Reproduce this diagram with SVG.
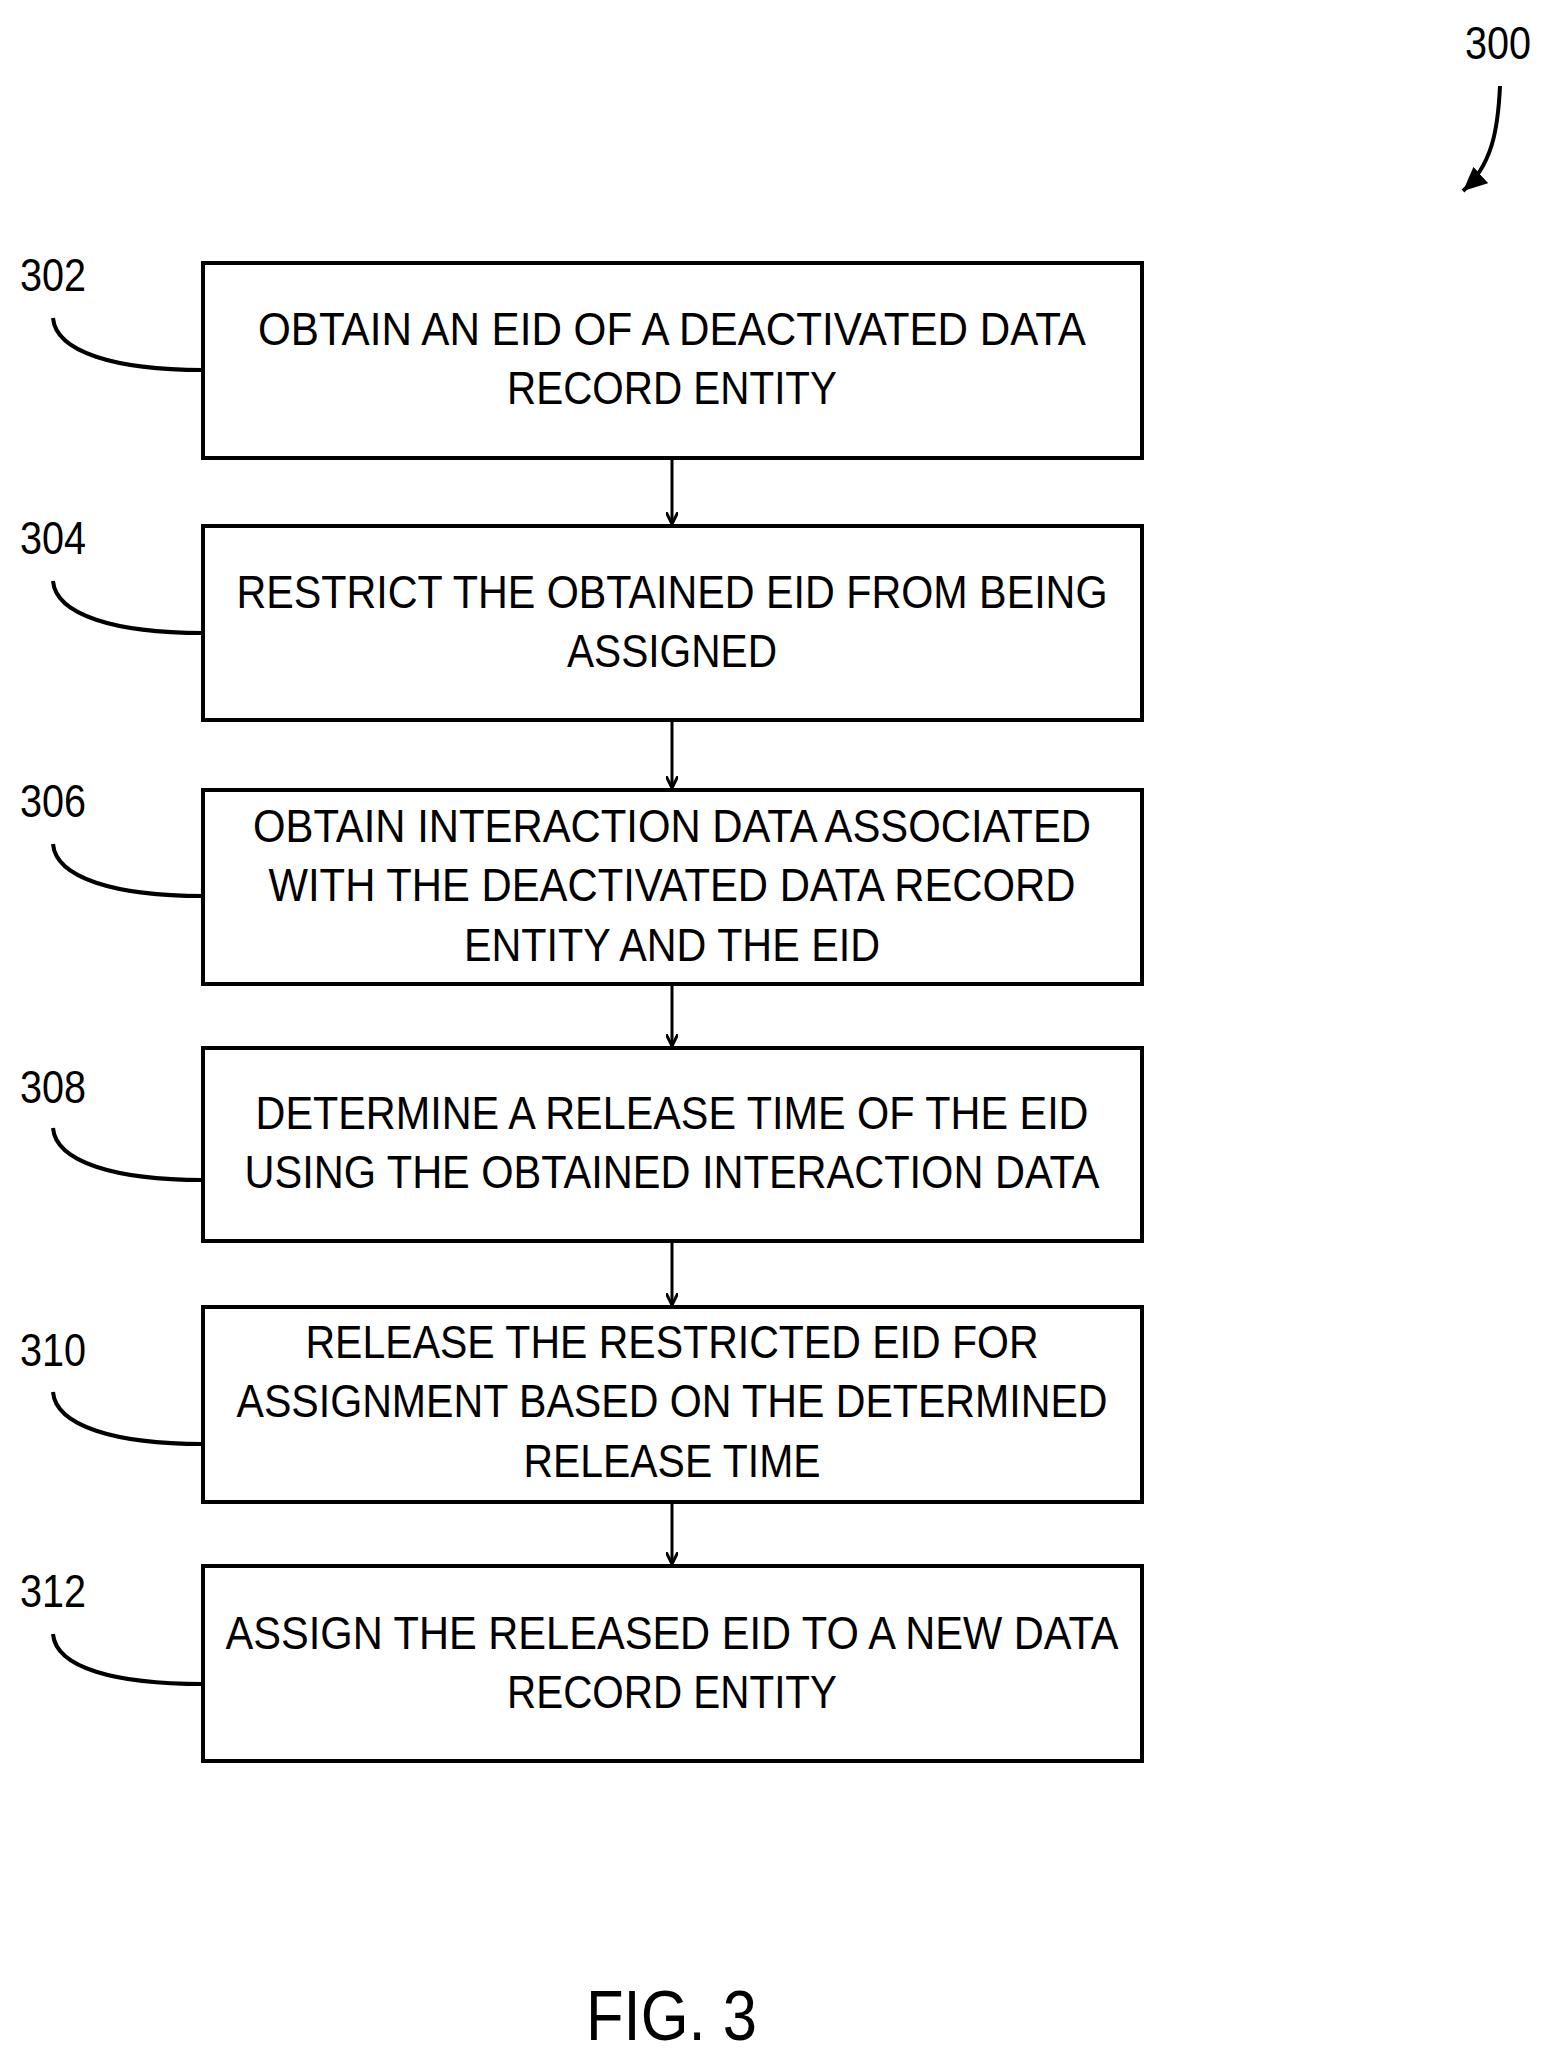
<svg xmlns="http://www.w3.org/2000/svg" width="1547" height="2059" viewBox="0 0 1547 2059">
<defs>
<style>
.box{fill:#fff;stroke:#000;stroke-width:4}
.t{font-family:"Liberation Sans",Arial,sans-serif;font-size:47px;text-anchor:middle;fill:#000}
.lb{font-family:"Liberation Sans",Arial,sans-serif;font-size:46px;fill:#000}
.lead{fill:none;stroke:#000;stroke-width:4}
.conn{stroke:#000;stroke-width:3;fill:none}
</style>
<marker id="ah" markerWidth="14" markerHeight="12" refX="12" refY="6" orient="auto" markerUnits="userSpaceOnUse">
<path d="M0,0 L12,6 L0,12" fill="none" stroke="#000" stroke-width="3"/>
</marker>
<marker id="ahf" markerWidth="26" markerHeight="22" refX="24" refY="11" orient="auto" markerUnits="userSpaceOnUse">
<path d="M0,0 L24,11 L0,22 Z" fill="#000"/>
</marker>
</defs>
<rect width="1547" height="2059" fill="#fff"/>
<g id="ref300">
<text class="lb" x="1465" y="59" textLength="66" lengthAdjust="spacingAndGlyphs">300</text>
<path d="M1500,86 C1498,130 1492,165 1463,191" class="lead" stroke-width="3" marker-end="url(#ahf)"/>
</g>
<g id="connectors">
<line class="conn" x1="672" y1="460" x2="672" y2="524" marker-end="url(#ah)"/>
<line class="conn" x1="672" y1="722" x2="672" y2="788" marker-end="url(#ah)"/>
<line class="conn" x1="672" y1="986" x2="672" y2="1046" marker-end="url(#ah)"/>
<line class="conn" x1="672" y1="1243" x2="672" y2="1305" marker-end="url(#ah)"/>
<line class="conn" x1="672" y1="1504" x2="672" y2="1564" marker-end="url(#ah)"/>
</g>
<g id="n302">
<rect class="box" x="203" y="263" width="939" height="195"/>
<text class="t" x="672" y="345" textLength="828" lengthAdjust="spacingAndGlyphs">OBTAIN AN EID OF A DEACTIVATED DATA</text>
<text class="t" x="672" y="404" textLength="330" lengthAdjust="spacingAndGlyphs">RECORD ENTITY</text>
<text class="lb" x="20" y="291" textLength="66" lengthAdjust="spacingAndGlyphs">302</text>
<path class="lead" d="M53,318 C56,352 115,370 203,370"/>
</g>
<g id="n304">
<rect class="box" x="203" y="526" width="939" height="194"/>
<text class="t" x="672" y="608" textLength="871" lengthAdjust="spacingAndGlyphs">RESTRICT THE OBTAINED EID FROM BEING</text>
<text class="t" x="672" y="667" textLength="210" lengthAdjust="spacingAndGlyphs">ASSIGNED</text>
<text class="lb" x="20" y="554" textLength="66" lengthAdjust="spacingAndGlyphs">304</text>
<path class="lead" d="M53,581 C56,615 115,633 203,633"/>
</g>
<g id="n306">
<rect class="box" x="203" y="790" width="939" height="194"/>
<text class="t" x="672" y="842" textLength="838" lengthAdjust="spacingAndGlyphs">OBTAIN INTERACTION DATA ASSOCIATED</text>
<text class="t" x="672" y="901" textLength="807" lengthAdjust="spacingAndGlyphs">WITH THE DEACTIVATED DATA RECORD</text>
<text class="t" x="672" y="961" textLength="416" lengthAdjust="spacingAndGlyphs">ENTITY AND THE EID</text>
<text class="lb" x="20" y="817" textLength="66" lengthAdjust="spacingAndGlyphs">306</text>
<path class="lead" d="M53,844 C56,878 115,896 203,896"/>
</g>
<g id="n308">
<rect class="box" x="203" y="1048" width="939" height="193"/>
<text class="t" x="672" y="1129" textLength="833" lengthAdjust="spacingAndGlyphs">DETERMINE A RELEASE TIME OF THE EID</text>
<text class="t" x="672" y="1188" textLength="855" lengthAdjust="spacingAndGlyphs">USING THE OBTAINED INTERACTION DATA</text>
<text class="lb" x="20" y="1103" textLength="66" lengthAdjust="spacingAndGlyphs">308</text>
<path class="lead" d="M53,1128 C56,1162 115,1180 203,1180"/>
</g>
<g id="n310">
<rect class="box" x="203" y="1307" width="939" height="195"/>
<text class="t" x="672" y="1358" textLength="733" lengthAdjust="spacingAndGlyphs">RELEASE THE RESTRICTED EID FOR</text>
<text class="t" x="672" y="1417" textLength="871" lengthAdjust="spacingAndGlyphs">ASSIGNMENT BASED ON THE DETERMINED</text>
<text class="t" x="672" y="1477" textLength="297" lengthAdjust="spacingAndGlyphs">RELEASE TIME</text>
<text class="lb" x="20" y="1366" textLength="66" lengthAdjust="spacingAndGlyphs">310</text>
<path class="lead" d="M53,1392 C56,1426 115,1444 203,1444"/>
</g>
<g id="n312">
<rect class="box" x="203" y="1566" width="939" height="195"/>
<text class="t" x="672" y="1649" textLength="893" lengthAdjust="spacingAndGlyphs">ASSIGN THE RELEASED EID TO A NEW DATA</text>
<text class="t" x="672" y="1708" textLength="330" lengthAdjust="spacingAndGlyphs">RECORD ENTITY</text>
<text class="lb" x="20" y="1607" textLength="66" lengthAdjust="spacingAndGlyphs">312</text>
<path class="lead" d="M53,1634 C56,1668 115,1684 203,1684"/>
</g>
<text x="586" y="2040" font-family="Liberation Sans, Arial, sans-serif" font-size="70" textLength="171" lengthAdjust="spacingAndGlyphs">FIG. 3</text>
</svg>
